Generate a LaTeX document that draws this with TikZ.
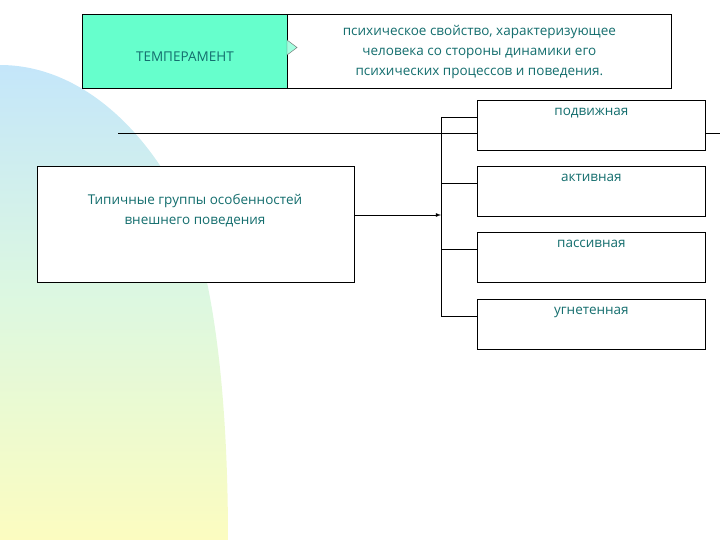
\documentclass[tikz,border=0pt]{standalone}
\usepackage{fontspec}
\setmainfont{Open Sans}
\definecolor{tx}{HTML}{146E6E}
\definecolor{aqua}{HTML}{66FFCC}
\definecolor{sky}{HTML}{C4E6FA}
\definecolor{mint}{HTML}{DDF8E0}
\definecolor{lemon}{HTML}{FCFCC0}
\begin{document}
\begin{tikzpicture}[x=1pt,y=-1pt,
  box/.style={draw=black,line width=0.8pt,fill=white},
  lbl/.style={text=tx,font=\fontsize{13.5}{20}\selectfont,align=center},
  ln/.style={line width=0.8pt}]
\useasboundingbox (0,0) rectangle (720,540);
\shade[top color=sky,bottom color=lemon,middle color=mint]
  (0,65) .. controls (80,65) and (150,130) .. (190,220) .. controls (215,290) and (228,400) .. (228,540) -- (0,540) -- cycle;
\draw[ln] (118,133) -- (720,133);
\node[box,fill=aqua,minimum width=205,minimum height=74,anchor=north west,inner sep=0] (temp) at (82,14) {};
\node[lbl] at (temp.center) [yshift=-5] {ТЕМПЕРАМЕНТ};
\node[box,minimum width=384,minimum height=74,anchor=north west,inner sep=0] (def) at (287,14) {};
\node[lbl] at (def.center) [yshift=-1] {психическое свойство, характеризующее\\человека со стороны динамики его\\психических процессов и поведения.};
\fill[aqua!60,draw=black!60,line width=0.4pt] (287,40) -- (297,47.5) -- (287,55) -- cycle;
\node[box,minimum width=317,minimum height=116,anchor=north west,inner sep=0] (grp) at (37,166) {};
\node[lbl,anchor=north] at (195,191) {Типичные группы особенностей\\внешнего поведения};
\coordinate (br) at (441,215);
\draw[ln,-latex] (grp.east |- br) -- (br);
\draw[ln] (441,117) -- (441,316);
\foreach \n/\y/\t in {a/100/подвижная,b/166/активная,c/232/пассивная,d/299/угнетенная}{
  \node[box,minimum width=228,minimum height=50,anchor=north west,inner sep=0] (\n) at (477,\y) {};
  \node[lbl,anchor=north] at (\n.north) [yshift=-5] {\t};
  \draw[ln] ([yshift=-17]\n.north west) -- (441,\y+17);
}
\end{tikzpicture}
\end{document}
